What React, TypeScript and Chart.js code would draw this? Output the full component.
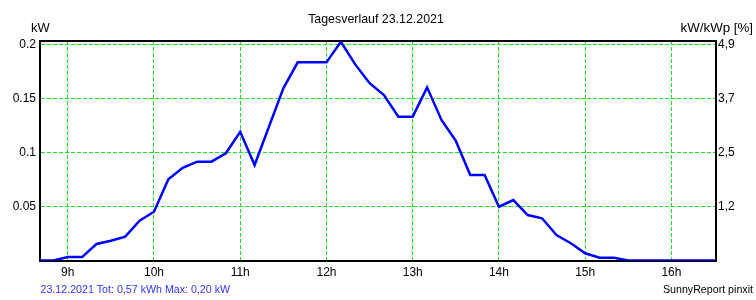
import React, { useEffect, useRef } from 'react';
import { Chart, registerables } from 'chart.js';

Chart.register(...registerables);

// ---- data ----
const times: string[] = [
  '8:40', '8:50', '9:00', '9:10', '9:20', '9:30', '9:40', '9:50',
  '10:00', '10:10', '10:20', '10:30', '10:40', '10:50',
  '11:00', '11:10', '11:20', '11:30', '11:40', '11:50',
  '12:00', '12:10', '12:20', '12:30', '12:40', '12:50',
  '13:00', '13:10', '13:20', '13:30', '13:40', '13:50',
  '14:00', '14:10', '14:20', '14:30', '14:40', '14:50',
  '15:00', '15:10', '15:20', '15:30', '15:40', '15:50',
  '16:00', '16:10', '16:20', '16:30',
];
const powerKW: number[] = [
  0, 0, 0.0032, 0.0032, 0.0153, 0.0184, 0.0221, 0.0369,
  0.0453, 0.0754, 0.086, 0.0917, 0.0917, 0.0995,
  0.1195, 0.0886, 0.1242, 0.1598, 0.1839, 0.1839,
  0.1839, 0.203, 0.182, 0.1645, 0.1536, 0.1335,
  0.1335, 0.1607, 0.1304, 0.111, 0.0794, 0.0794,
  0.0499, 0.0561, 0.0422, 0.0392, 0.0237, 0.016,
  0.0067, 0.0026, 0.0026, 0, 0, 0,
  0, 0, 0, 0,
];
const hourTicks: number[] = [9, 10, 11, 12, 13, 14, 15, 16];
const leftTickValues: number[] = [0.05, 0.1, 0.15, 0.2];
const leftTickLabels: string[] = ['0.05', '0.1', '0.15', '0.2'];
const rightTickLabels: string[] = ['1,2', '2,5', '3,7', '4,9'];
const titleText = 'Tagesverlauf 23.12.2021';
const leftUnit = 'kW';
const rightUnit = 'kW/kWp [%]';
const footerLeft = '23.12.2021 Tot: 0,57 kWh Max: 0,20 kW';
const footerRight = 'SunnyReport pinxit';

const X_MIN = 520.7;
const X_MAX = 991;
const Y_MAX = 0.20371;

const FONT = '"Liberation Sans", Arial, sans-serif';
const GREEN = '#22e022';

function toMinutes(t: string): number {
  const [h, m] = t.split(':').map(Number);
  return h * 60 + m;
}

const textPlugin = {
  id: 'frameText',
  beforeDatasetsDraw(chart: any) {
    const { ctx, chartArea: a } = chart;
    ctx.save();
    ctx.strokeStyle = '#000';
    ctx.lineWidth = 2;
    ctx.beginPath();
    ctx.moveTo(a.left - 1, a.top);
    ctx.lineTo(a.right + 1, a.top);
    ctx.stroke();
    ctx.restore();
  },
  afterDraw(chart: any) {
    const { ctx } = chart;
    ctx.save();
    ctx.textBaseline = 'alphabetic';
    ctx.fillStyle = '#000';
    ctx.font = `12.4px ${FONT}`;
    ctx.textAlign = 'center';
    ctx.fillText(titleText, 376, 23);
    ctx.font = `13px ${FONT}`;
    ctx.textAlign = 'left';
    ctx.fillText(leftUnit, 31, 32);
    ctx.font = `13.3px ${FONT}`;
    ctx.textAlign = 'right';
    ctx.fillText(rightUnit, 753, 32);
    ctx.font = `10.67px ${FONT}`;
    ctx.textAlign = 'left';
    ctx.fillStyle = '#3333ff';
    ctx.fillText(footerLeft, 40.5, 293);
    ctx.textAlign = 'right';
    ctx.fillStyle = '#000';
    ctx.fillText(footerRight, 753, 293);
    ctx.restore();
  },
};

export default function App() {
  const canvasRef = useRef<HTMLCanvasElement | null>(null);

  useEffect(() => {
    if (!canvasRef.current) return;
    const data = times.map((t, i) => ({ x: toMinutes(t), y: powerKW[i] }));
    const chart = new Chart(canvasRef.current, {
      type: 'line',
      data: {
        datasets: [
          {
            data,
            borderColor: '#0000ff',
            borderWidth: 2.5,
            pointRadius: 0,
            tension: 0,
            fill: false,
            yAxisID: 'y',
          },
        ],
      },
      plugins: [textPlugin],
      options: {
        animation: false,
        responsive: false,
        devicePixelRatio: 1,
        layout: { padding: { top: 41, left: 0, right: 0, bottom: 0 } },
        plugins: {
          legend: { display: false },
          title: { display: false },
          tooltip: { enabled: false },
        },
        scales: {
          x: {
            type: 'linear',
            min: X_MIN,
            max: X_MAX,
            afterFit: (s: any) => {
              s.height = 39.5;
            },
            afterBuildTicks: (s: any) => {
              s.ticks = hourTicks.map((h) => ({ value: h * 60 }));
            },
            ticks: {
              callback: (v: any) => `${Math.round(Number(v) / 60)}h`,
              color: '#000',
              font: { family: FONT, size: 12 },
              padding: 5,
              maxRotation: 0,
              autoSkip: false,
            },
            grid: { color: GREEN, lineWidth: 1, drawTicks: false },
            border: { display: true, color: '#000', width: 2, dash: [4, 2] },
          },
          y: {
            type: 'linear',
            position: 'left',
            min: 0,
            max: Y_MAX,
            afterFit: (s: any) => {
              s.width = 40;
            },
            afterBuildTicks: (s: any) => {
              s.ticks = leftTickValues.map((v) => ({ value: v }));
            },
            ticks: {
              callback: (_v: any, i: number) => leftTickLabels[i],
              color: '#000',
              font: { family: FONT, size: 12 },
              padding: 4,
            },
            grid: { color: GREEN, lineWidth: 1, drawTicks: false },
            border: { display: true, color: '#000', width: 2, dash: [4, 2] },
          },
          y2: {
            type: 'linear',
            position: 'right',
            display: true,
            min: 0,
            max: Y_MAX,
            afterFit: (s: any) => {
              s.width = 40;
            },
            afterBuildTicks: (s: any) => {
              s.ticks = leftTickValues.map((v) => ({ value: v }));
            },
            ticks: {
              callback: (_v: any, i: number) => rightTickLabels[i],
              color: '#000',
              font: { family: FONT, size: 12 },
              padding: 2,
            },
            grid: { display: false, drawTicks: false },
            border: { display: true, color: '#000', width: 2 },
          },
        },
      },
    } as any);
    return () => chart.destroy();
  }, []);

  return (
    <div style={{ position: 'fixed', left: 0, top: 0, width: 756, height: 300, background: '#fff' }}>
      <canvas ref={canvasRef} width={756} height={300} style={{ width: 756, height: 300, display: 'block' }} />
    </div>
  );
}
